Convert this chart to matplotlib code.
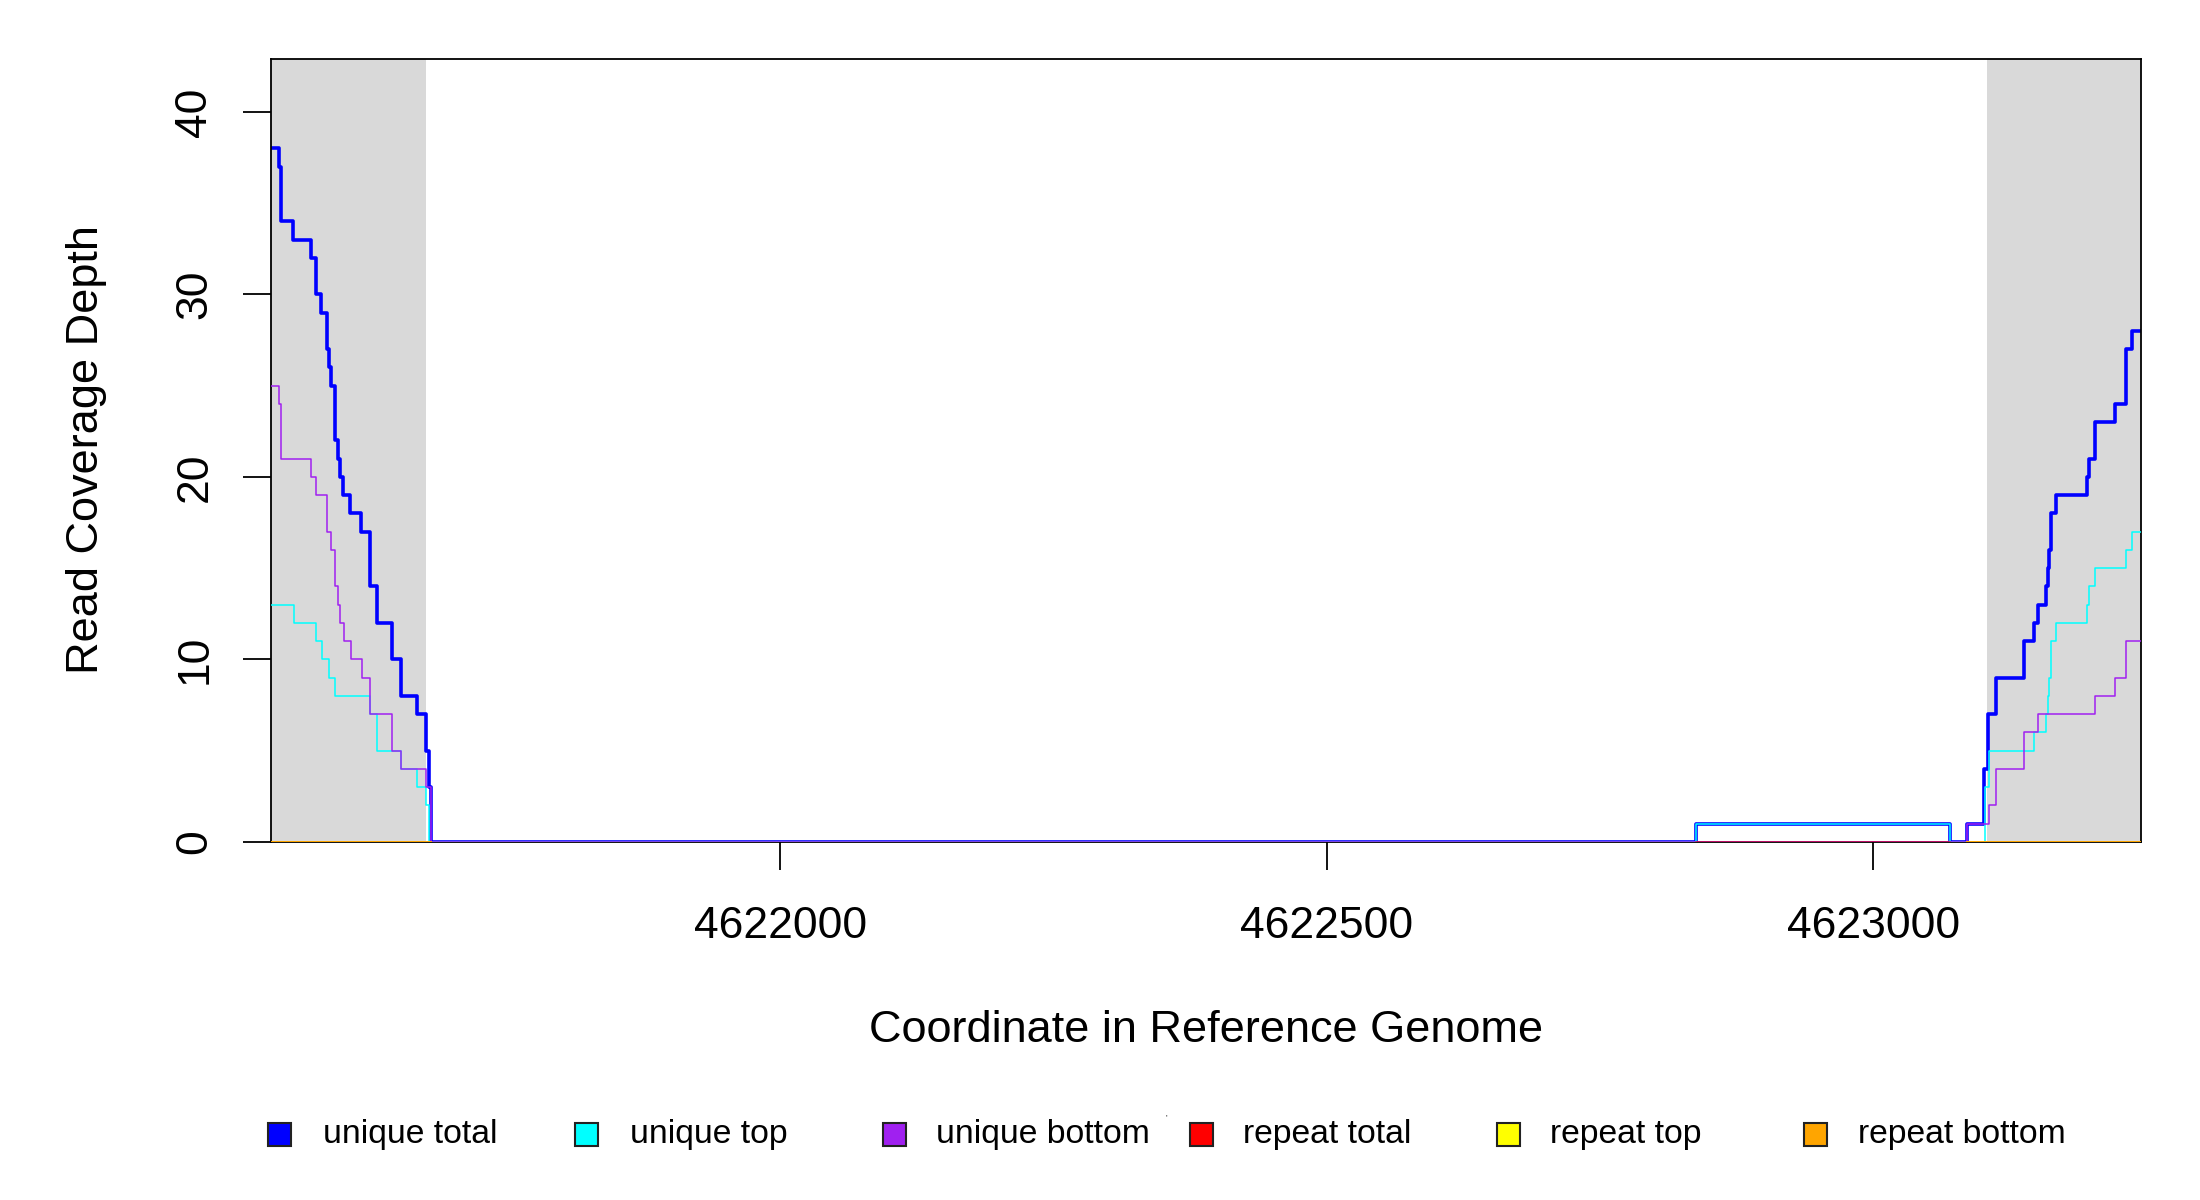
import numpy as np
import matplotlib
matplotlib.use("Agg")
import matplotlib.pyplot as plt
from matplotlib.patches import Rectangle

plt.rcParams['font.family'] = ['Liberation Sans', 'DejaVu Sans']

# ---------------- data ----------------
x_range = [4621534, 4623245]
flank_left = [4621534, 4621676]
flank_right = [4623104, 4623245]

unique_total_x = [4621534, 4621541, 4621543, 4621554, 4621571, 4621575, 4621580, 4621585,
                  4621587, 4621589, 4621593, 4621595, 4621597, 4621600, 4621606, 4621616,
                  4621625, 4621631, 4621645, 4621653, 4621668, 4621676, 4621679, 4621680,
                  4622838, 4623070, 4623086, 4623101, 4623105, 4623112, 4623138, 4623147,
                  4623151, 4623158, 4623160, 4623161, 4623163, 4623167, 4623196, 4623197,
                  4623203, 4623221, 4623231, 4623237, 4623245]
unique_total = [38, 37, 34, 33, 32, 30, 29, 27,
                26, 25, 22, 21, 20, 19, 18, 17,
                14, 12, 10, 8, 7, 5, 3, 0,
                1, 0, 1, 4, 7, 9, 11, 12,
                13, 14, 15, 16, 18, 19, 20, 21,
                23, 24, 27, 28, 28]

unique_top_x = [4621534, 4621555, 4621575, 4621581, 4621587, 4621593, 4621625, 4621631,
                4621653, 4621668, 4621676, 4621679, 4622838, 4623070, 4623102, 4623106,
                4623147, 4623158, 4623160, 4623161, 4623163, 4623167, 4623196, 4623197,
                4623203, 4623231, 4623237, 4623245]
unique_top = [13, 12, 11, 10, 9, 8, 7, 5,
              4, 3, 2, 0, 1, 0, 3, 5,
              6, 7, 8, 9, 11, 12, 13, 14,
              15, 16, 17, 17]

unique_bottom_x = [4621534, 4621541, 4621543, 4621571, 4621575, 4621585, 4621589, 4621593,
                   4621595, 4621597, 4621601, 4621607, 4621617, 4621625, 4621645, 4621653,
                   4621676, 4621680, 4623086, 4623106, 4623112, 4623138, 4623151, 4623203,
                   4623221, 4623231, 4623245]
unique_bottom = [25, 24, 21, 20, 19, 17, 16, 14,
                 13, 12, 11, 10, 9, 7, 5, 4,
                 3, 0, 1, 2, 4, 6, 7, 8,
                 9, 11, 11]

repeat_total_x = [4622838, 4623070]
repeat_total = [0, 0]
repeat_top_x = [4621534, 4621680, np.nan, 4623086, 4623245]
repeat_top = [0, 0, np.nan, 0, 0]
repeat_bottom_x = [4621534, 4621680, np.nan, 4623086, 4623245]
repeat_bottom = [0, 0, np.nan, 0, 0]

x_ticks = [4622000, 4622500, 4623000]
y_ticks = [0, 10, 20, 30, 40]
y_max = 42.9

legend_labels = ["unique total", "unique top", "unique bottom",
                 "repeat total", "repeat top", "repeat bottom"]
legend_colors = ["#0000FF", "#00FFFF", "#A020F0", "#FF0000", "#FFFF00", "#FFA500"]

# ---------------- figure ----------------
W, H = 2200, 1200
fig = plt.figure(figsize=(W / 100, H / 100), dpi=100)
ax = fig.add_axes([271 / W, 1 - 842 / H, (2141 - 271) / W, (842 - 59) / H])

ax.axvspan(flank_left[0], flank_left[1], color="#D9D9D9", lw=0, zorder=0)
ax.axvspan(flank_right[0], flank_right[1], color="#D9D9D9", lw=0, zorder=0)

ax.step(unique_total_x, unique_total, where="post", color=legend_colors[0], lw=2.6, zorder=2)
ax.step(unique_top_x, unique_top, where="post", color=legend_colors[1], lw=1.1, zorder=3)
ax.step(unique_bottom_x, unique_bottom, where="post", color=legend_colors[2], lw=1.1, zorder=4)
ax.step(repeat_total_x, repeat_total, where="post", color=legend_colors[3], lw=1.1, alpha=0.6, zorder=5)
ax.step(repeat_top_x, repeat_top, where="post", color=legend_colors[4], lw=1.1, zorder=6)
ax.step(repeat_bottom_x, repeat_bottom, where="post", color=legend_colors[5], lw=1.4, zorder=7)

ax.set_xlim(x_range)
ax.set_ylim(0, y_max)
ax.set_xticks(x_ticks)
ax.set_xticklabels([str(v) for v in x_ticks])
ax.set_yticks(y_ticks)
ax.set_yticklabels([str(v) for v in y_ticks], rotation=90, va="center")

ax.tick_params(axis="x", length=20, width=1.3, labelsize=32, pad=26)
ax.tick_params(axis="y", length=20, width=1.3, labelsize=32, pad=20)
for s in ax.spines.values():
    s.set_linewidth(1.3)
    s.set_color("black")

fig.text(1206 / W, 1 - 1031 / H, "Coordinate in Reference Genome",
         ha="center", va="center", fontsize=32.5)
fig.text(87 / W, 1 - 450 / H, "Read Coverage Depth",
         ha="center", va="center", rotation=90, fontsize=32.5)

# legend
sq_x = [279, 586, 894, 1201, 1508, 1815]
txt_x = [323, 630, 936, 1243, 1550, 1858]
ly = 1134
sq = 23
for xs, xt, lab, col in zip(sq_x, txt_x, legend_labels, legend_colors):
    fig.patches.append(Rectangle(((xs - sq / 2) / W, 1 - (ly + sq / 2) / H), sq / W, sq / H,
                                 transform=fig.transFigure, facecolor=col,
                                 edgecolor="#222222", lw=1.5))
    fig.text(xt / W, 1 - ly / H, lab, ha="left", va="center", fontsize=24.3)
fig.text(1166 / W, 1 - 1118 / H, "'", ha="center", va="center", fontsize=6)

fig.savefig("out.png", dpi=100)
